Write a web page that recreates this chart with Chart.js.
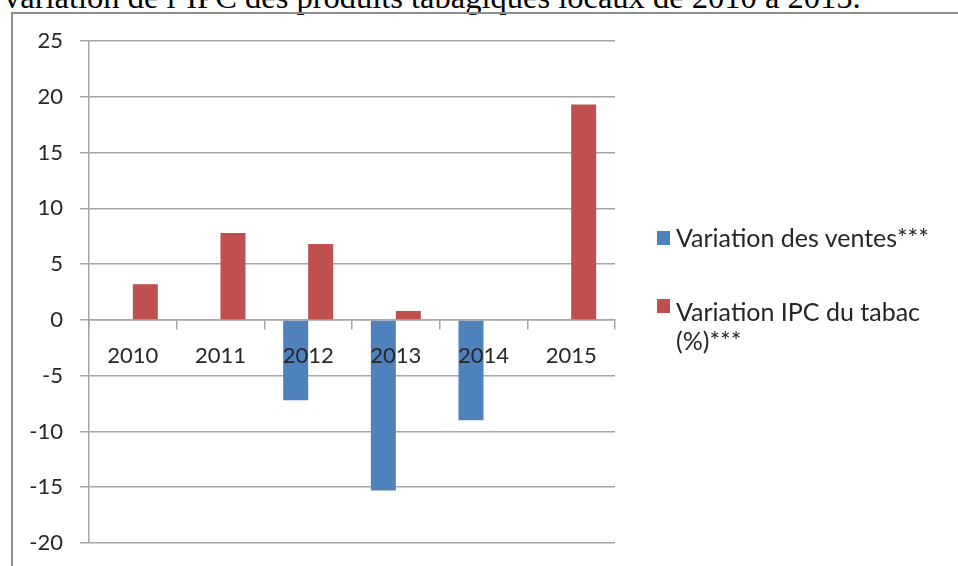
<!DOCTYPE html>
<html lang="fr">
<head>
<meta charset="utf-8">
<title>Variation des ventes et IPC du tabac</title>
<script src="https://cdn.jsdelivr.net/npm/chart.js@4/dist/chart.umd.min.js"></script>
<style>
  html, body { margin: 0; padding: 0; background: #fff; }
  #page { position: relative; width: 958px; height: 566px; overflow: hidden; background: #fff; }
  #caption {
    position: absolute; left: 4px; top: -21px; white-space: nowrap;
    font-family: "Liberation Serif", "Times New Roman", serif; font-size: 32.5px; color: #000;
  }
  #frame {
    position: absolute; left: 11px; top: 12px; width: 960px; height: 570px;
    border-left: 2px solid #8e8e8e; border-top: 2px solid #8e8e8e;
  }
  #chart { position: absolute; left: 0; top: 0; }
  #legend { position: absolute; left: 657px; top: 0; font-family: Lato, "Open Sans", sans-serif; font-size: 25px; color: #262626; }
  .item { position: absolute; left: 0; white-space: nowrap; }
  .swatch { position: absolute; left: 0; width: 13px; height: 14px; }
  .label { position: absolute; left: 19px; line-height: 29px; }
</style>
</head>
<body>
<div id="page">
  <div id="caption">variation de l’IPC des produits tabagiques locaux de 2010 à 2015.</div>
  <div id="frame"></div>
  <canvas id="chart" width="958" height="566"></canvas>
  <div id="legend"></div>
</div>
<script>
// Years on the category axis
const categories = ['2010', '2011', '2012', '2013', '2014', '2015'];
// Year-on-year change in sales
const salesChange = [null, null, -7.2, -15.3, -9.0, null];
// Year-on-year change in the tobacco CPI (%)
const tobaccoCpiChange = [3.2, 7.8, 6.8, 0.8, null, 19.3];
// Value axis bounds and step
const yRange = [-20, 25];
const yStep = 5;
// Legend texts (second entry wraps onto two lines)
const seriesNames = [['Variation des ventes***'], ['Variation IPC du tabac', '(%)***']];

const gridColor = '#a6a6a6';
const textColor = '#262626';
const tickFont = { family: 'Lato, "Open Sans", sans-serif', size: 22 };

const chart = new Chart(document.getElementById('chart'), {
  type: 'bar',
  data: {
    labels: categories,
    datasets: [
      { label: seriesNames[0].join(' '), data: salesChange, backgroundColor: '#4f81bd', borderWidth: 0 },
      { label: seriesNames[1].join(' '), data: tobaccoCpiChange, backgroundColor: '#c0504d', borderWidth: 0 }
    ]
  },
  options: {
    responsive: false,
    animation: false,
    categoryPercentage: 0.57,
    barPercentage: 1,
    layout: { padding: { left: 20, top: 41, right: 343, bottom: 23 } },
    plugins: { legend: { display: false }, tooltip: { enabled: false } },
    scales: {
      x: {
        position: { y: 0 },
        grid: { drawOnChartArea: false, drawTicks: true, tickLength: 9, color: gridColor, lineWidth: 1.5 },
        border: { color: gridColor, width: 1.5 },
        // year labels sit on top of the bars
        ticks: { z: 1, font: tickFont, color: textColor, padding: 14, maxRotation: 0 }
      },
      y: {
        min: yRange[0],
        max: yRange[1],
        ticks: { stepSize: yStep, font: tickFont, color: textColor, padding: 17 },
        grid: { color: gridColor, lineWidth: 1.5, tickLength: 9 },
        border: { color: gridColor, width: 1.5 },
        afterFit: axis => {
          axis.width = 69;
          axis.paddingTop = 0;
          axis.paddingBottom = 0;
        }
      }
    }
  }
});

// Legend built from the chart's datasets
const legendTops = [231, 299];
const labelOffsets = [-8, -2];
const legend = document.getElementById('legend');
chart.data.datasets.forEach((ds, i) => {
  const item = document.createElement('div');
  item.className = 'item';
  item.style.top = legendTops[i] + 'px';
  const sw = document.createElement('div');
  sw.className = 'swatch';
  sw.style.background = ds.backgroundColor;
  sw.style.top = '0px';
  const lab = document.createElement('div');
  lab.className = 'label';
  lab.style.top = labelOffsets[i] + 'px';
  lab.innerHTML = seriesNames[i].join('<br>');
  item.appendChild(sw);
  item.appendChild(lab);
  legend.appendChild(item);
});
</script>
</body>
</html>
